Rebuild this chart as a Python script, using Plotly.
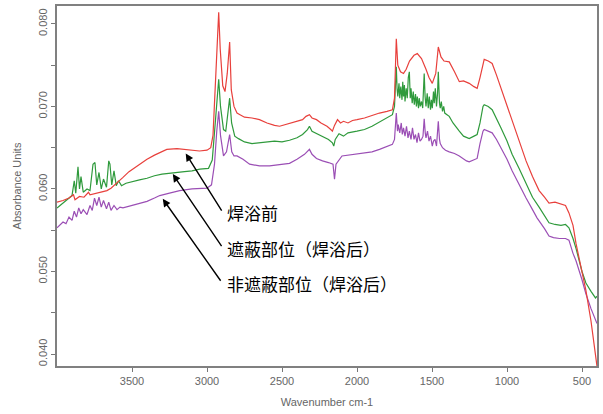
import plotly.graph_objects as go

# ---- data (wavenumber cm-1, absorbance) ----
red_wn = [4000, 3960, 3920, 3890, 3880, 3850, 3820, 3790, 3780, 3740, 3700, 3667, 3640, 3600, 3560, 3520,
          3480, 3448, 3400, 3350, 3300, 3268, 3200, 3150, 3100, 3050, 3000, 2975, 2960, 2945, 2930, 2922,
          2912, 2895, 2880, 2865, 2849, 2838, 2820, 2800, 2780, 2750, 2700, 2650, 2600, 2550, 2516, 2480,
          2440, 2400, 2363, 2340, 2317, 2300, 2270, 2240, 2200, 2175, 2164, 2150, 2130, 2110, 2090, 2060,
          2030, 2000, 1950, 1900, 1850, 1800, 1764, 1750, 1738, 1728, 1710, 1690, 1672, 1650, 1620, 1598,
          1570, 1540, 1520, 1498, 1475, 1458, 1440, 1420, 1400, 1385, 1350, 1318, 1290, 1252, 1220, 1199,
          1180, 1160, 1152, 1125, 1099, 1070, 1040, 1000, 966, 920, 873, 830, 786, 750, 720, 680, 640, 610,
          587, 560, 540, 500, 474, 440, 410, 400]
red_abs = [0.0584, 0.0586, 0.0589, 0.0593, 0.0587, 0.0591, 0.0590, 0.0596, 0.0593, 0.0595, 0.0597, 0.0598,
           0.0601, 0.0607, 0.0614, 0.0621, 0.0626, 0.0630, 0.0636, 0.0641, 0.0645, 0.0648, 0.0649, 0.0648,
           0.0647, 0.0646, 0.0647, 0.0650, 0.0665, 0.0720, 0.0790, 0.0814, 0.0770, 0.0725, 0.0718, 0.0740,
           0.0778, 0.0720, 0.0700, 0.0692, 0.0690, 0.0687, 0.0686, 0.0684, 0.0680, 0.0677, 0.0676, 0.0678,
           0.0680, 0.0682, 0.0684, 0.0688, 0.0690, 0.0686, 0.0684, 0.0680, 0.0676, 0.0672, 0.0670, 0.0677,
           0.0684, 0.0680, 0.0682, 0.0680, 0.0683, 0.0684, 0.0686, 0.0689, 0.0692, 0.0694, 0.0696, 0.0710,
           0.0782, 0.0750, 0.0742, 0.0740, 0.0745, 0.0755, 0.0762, 0.0764, 0.0758, 0.0745, 0.0735, 0.0728,
           0.0740, 0.0772, 0.0760, 0.0755, 0.0754, 0.0754, 0.0742, 0.0730, 0.0731, 0.0728, 0.0724, 0.0722,
           0.0735, 0.0754, 0.0757, 0.0755, 0.0752, 0.0738, 0.0722, 0.0700, 0.0682, 0.0660, 0.0634, 0.0615,
           0.0598, 0.0590, 0.0583, 0.0584, 0.0582, 0.0580, 0.0571, 0.0556, 0.0534, 0.0500, 0.0477, 0.0440,
           0.0395, 0.0385]

green_wn = [4000, 3980, 3960, 3940, 3920, 3900, 3885, 3875, 3860, 3850, 3840, 3825, 3800, 3780, 3760, 3747,
            3735, 3720, 3705, 3690, 3670, 3655, 3647, 3635, 3620, 3605, 3590, 3570, 3540, 3500, 3450, 3400,
            3350, 3300, 3228, 3150, 3100, 3048, 2990, 2965, 2945, 2930, 2922, 2910, 2890, 2875, 2862, 2849,
            2836, 2815, 2790, 2750, 2700, 2650, 2600, 2550, 2500, 2450, 2400, 2363, 2330, 2317, 2300, 2270,
            2230, 2190, 2164, 2155, 2145, 2120, 2090, 2060, 2000, 1950, 1900, 1850, 1800, 1764, 1750, 1738,
            1733, 1728, 1720, 1715, 1708, 1700, 1695, 1690, 1684, 1680, 1672, 1665, 1658, 1651, 1645, 1640,
            1632, 1625, 1618, 1610, 1604, 1598, 1590, 1585, 1578, 1570, 1562, 1552, 1546, 1540, 1532, 1525,
            1518, 1510, 1504, 1498, 1490, 1485, 1478, 1470, 1463, 1458, 1450, 1445, 1438, 1430, 1422, 1415,
            1400, 1385, 1360, 1330, 1318, 1290, 1252, 1220, 1199, 1180, 1160, 1152, 1125, 1099, 1070, 1040,
            1000, 966, 920, 873, 830, 786, 750, 720, 680, 640, 610, 587, 560, 540, 500, 474, 440, 410, 400]
green_abs = [0.0577, 0.0580, 0.0583, 0.0585, 0.0588, 0.0592, 0.0610, 0.0595, 0.0627, 0.0600, 0.0615, 0.0596,
             0.0600, 0.0598, 0.0630, 0.0632, 0.0605, 0.0620, 0.0600, 0.0612, 0.0602, 0.0634, 0.0630, 0.0605,
             0.0622, 0.0604, 0.0610, 0.0604, 0.0607, 0.0609, 0.0611, 0.0613, 0.0616, 0.0618, 0.0619, 0.0621,
             0.0622, 0.0624, 0.0625, 0.0635, 0.0680, 0.0720, 0.0733, 0.0700, 0.0672, 0.0670, 0.0690, 0.0710,
             0.0680, 0.0664, 0.0661, 0.0657, 0.0655, 0.0656, 0.0657, 0.0658, 0.0657, 0.0659, 0.0662, 0.0666,
             0.0672, 0.0676, 0.0670, 0.0667, 0.0664, 0.0660, 0.0656, 0.0652, 0.0660, 0.0667, 0.0664, 0.0668,
             0.0670, 0.0672, 0.0676, 0.0681, 0.0686, 0.0690, 0.0700, 0.0748,
             0.0722, 0.0712, 0.0728, 0.0710, 0.0724, 0.0708, 0.0730, 0.0712, 0.0726, 0.0706, 0.0722, 0.0710,
             0.0735, 0.0742, 0.0710, 0.0722, 0.0704, 0.0718, 0.0702, 0.0715, 0.0700, 0.0712, 0.0698, 0.0710,
             0.0700, 0.0706, 0.0698, 0.0740, 0.0712, 0.0700, 0.0716, 0.0698, 0.0712, 0.0696, 0.0708, 0.0698,
             0.0718, 0.0704, 0.0722, 0.0700, 0.0716, 0.0742, 0.0704, 0.0698, 0.0706, 0.0694, 0.0700, 0.0692,
             0.0690, 0.0688, 0.0680, 0.0672, 0.0670, 0.0664, 0.0661, 0.0664, 0.0666, 0.0680, 0.0700, 0.0702,
             0.0700, 0.0696, 0.0686, 0.0674, 0.0658, 0.0642, 0.0625, 0.0606, 0.0590, 0.0578, 0.0568, 0.0559,
             0.0557, 0.0556, 0.0557, 0.0553, 0.0540, 0.0528, 0.0500, 0.0486, 0.0476, 0.0468, 0.0470]

purple_wn = [4000, 3980, 3960, 3940, 3920, 3900, 3885, 3870, 3855, 3840, 3825, 3800, 3780, 3765, 3750, 3735,
             3720, 3705, 3690, 3670, 3655, 3640, 3620, 3600, 3580, 3560, 3520, 3480, 3448, 3400, 3350, 3315,
             3250, 3182, 3100, 3000, 2970, 2950, 2935, 2922, 2910, 2890, 2870, 2849, 2835, 2820, 2800, 2760,
             2716, 2650, 2583, 2520, 2450, 2400, 2350, 2317, 2300, 2270, 2230, 2190, 2160, 2150, 2140, 2100,
             2060, 2000, 1950, 1900, 1850, 1785, 1764, 1750, 1738, 1730, 1725, 1715, 1705, 1698, 1690, 1680,
             1670, 1660, 1651, 1640, 1630, 1620, 1610, 1600, 1590, 1580, 1570, 1560, 1552, 1545, 1540, 1530,
             1520, 1510, 1498, 1490, 1480, 1470, 1458, 1450, 1445, 1430, 1410, 1385, 1350, 1318, 1290, 1270,
             1252, 1220, 1199, 1180, 1160, 1152, 1125, 1099, 1070, 1040, 1000, 966, 920, 873, 830, 800, 750,
             720, 690, 650, 610, 587, 560, 540, 500, 474, 440, 410, 400]
purple_abs = [0.0553, 0.0556, 0.0560, 0.0558, 0.0566, 0.0562, 0.0573, 0.0566, 0.0577, 0.0570, 0.0575, 0.0569,
              0.0580, 0.0574, 0.0589, 0.0580, 0.0590, 0.0578, 0.0586, 0.0576, 0.0584, 0.0574, 0.0580, 0.0575,
              0.0578, 0.0577, 0.0579, 0.0581, 0.0582, 0.0585, 0.0589, 0.0592, 0.0595, 0.0598, 0.0600, 0.0601,
              0.0605, 0.0630, 0.0670, 0.0694, 0.0665, 0.0640, 0.0645, 0.0666, 0.0645, 0.0640, 0.0640, 0.0636,
              0.0630, 0.0628, 0.0628, 0.0629, 0.0631, 0.0636, 0.0642, 0.0648, 0.0642, 0.0637, 0.0634, 0.0632,
              0.0630, 0.0612, 0.0630, 0.0640, 0.0641, 0.0642, 0.0644, 0.0645, 0.0648, 0.0652, 0.0654, 0.0660,
              0.0692, 0.0670, 0.0678, 0.0668, 0.0680, 0.0666, 0.0674, 0.0664, 0.0676, 0.0662, 0.0670, 0.0660,
              0.0674, 0.0660, 0.0666, 0.0656, 0.0668, 0.0658, 0.0660, 0.0664, 0.0685, 0.0668, 0.0662, 0.0670,
              0.0658, 0.0664, 0.0652, 0.0658, 0.0660, 0.0652, 0.0682, 0.0660, 0.0655, 0.0650, 0.0647, 0.0645,
              0.0643, 0.0640, 0.0636, 0.0634, 0.0633, 0.0635, 0.0637, 0.0655, 0.0670, 0.0672, 0.0670, 0.0668,
              0.0660, 0.0650, 0.0636, 0.0622, 0.0605, 0.0589, 0.0575, 0.0565, 0.0552, 0.0543, 0.0541, 0.0540,
              0.0540, 0.0538, 0.0522, 0.0513, 0.0490, 0.0473, 0.0455, 0.0440, 0.0437]

series_names = ["焊浴前", "遮蔽部位（焊浴后）", "非遮蔽部位（焊浴后）"]
x_tick_vals = [3500, 3000, 2500, 2000, 1500, 1000, 500]
y_tick_vals = [0.040, 0.050, 0.060, 0.070, 0.080]
y_tick_text = ["0.040", "0.050", "0.060", "0.070", "0.080"]

fig = go.Figure()
fig.add_trace(go.Scatter(x=purple_wn, y=purple_abs, mode="lines", name=series_names[2],
                         line=dict(color="#9b4fb5", width=1.2)))
fig.add_trace(go.Scatter(x=green_wn, y=green_abs, mode="lines", name=series_names[1],
                         line=dict(color="#2f9a3c", width=1.2)))
fig.add_trace(go.Scatter(x=red_wn, y=red_abs, mode="lines", name=series_names[0],
                         line=dict(color="#e8403c", width=1.2)))

# arrows (head on curve, tail near label)
arrows = [
    (3142, 0.0643, 2896, 0.0572),
    (3228, 0.0618, 2896, 0.0529),
    (3295, 0.0588, 2902, 0.0487),
]
for hx, hy, tx, ty in arrows:
    fig.add_annotation(x=hx, y=hy, ax=tx, ay=ty, xref="x", yref="y", axref="x", ayref="y",
                       text="", showarrow=True, arrowhead=2, arrowsize=1.1, arrowwidth=1.4,
                       arrowcolor="black")

label_y = [0.0571, 0.0528, 0.0485]
for name, ly in zip(series_names, label_y):
    fig.add_annotation(x=2880, y=ly, xref="x", yref="y", text=name, showarrow=False,
                       xanchor="left", yanchor="middle",
                       font=dict(family="Noto Sans CJK SC", size=17, color="black"))

axis_font = dict(family="Liberation Sans, Arial", size=11, color="#666666")
fig.update_layout(
    width=603, height=414,
    margin=dict(l=57, r=5, t=4, b=48),
    paper_bgcolor="white", plot_bgcolor="white",
    showlegend=False,
    xaxis=dict(range=[4000, 400], tickvals=x_tick_vals, ticks="outside", ticklen=4,
               tickcolor="#777777", tickfont=axis_font, showgrid=False, zeroline=False,
               showline=True, linecolor="#808080", linewidth=1.5, mirror=True,
               title=dict(text="Wavenumber cm-1", font=axis_font, standoff=12)),
    yaxis=dict(range=[0.03855, 0.08217], tickvals=y_tick_vals, ticktext=y_tick_text,
               tickangle=-90, ticks="outside", ticklen=4, tickcolor="#777777",
               tickfont=axis_font, showgrid=False, zeroline=False,
               minor=dict(dtick=0.005, tick0=0.040, ticks="outside", ticklen=4, tickcolor="#777777"),
               showline=True, linecolor="#808080", linewidth=1.5, mirror=True,
               title=dict(text="Absorbance Units", font=axis_font, standoff=13)),
)

fig.write_html("out.html")
